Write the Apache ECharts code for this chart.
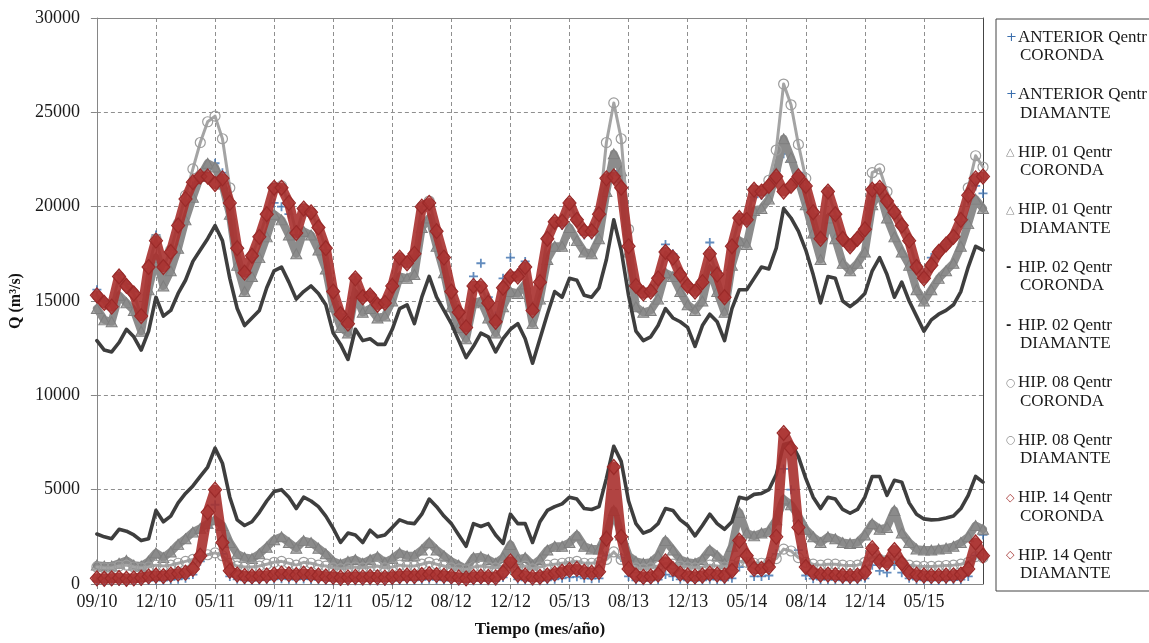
<!DOCTYPE html>
<html>
<head>
<meta charset="utf-8">
<title>Q entrante</title>
<script src="https://cdn.jsdelivr.net/npm/echarts@6/dist/echarts.min.js"></script>
<style>
  html, body { margin: 0; padding: 0; background: #fff; }
  #chart { width: 1149px; height: 643px; }
</style>
</head>
<body>
<div id="chart"></div>
<script>
// Sample index runs 0..120; one tick label every 8 samples.
const tickLabels = ['09/10', '12/10', '05/11', '09/11', '12/11', '05/12', '08/12', '12/12',
                    '05/13', '08/13', '12/13', '05/14', '08/14', '12/14', '05/15'];
const samplesPerTick = 8;

const seriesNames = [
  'ANTERIOR Qentr CORONDA', 'ANTERIOR Qentr DIAMANTE',
  'HIP. 01 Qentr CORONDA', 'HIP. 01 Qentr DIAMANTE',
  'HIP. 02 Qentr CORONDA', 'HIP. 02 Qentr DIAMANTE',
  'HIP. 08 Qentr CORONDA', 'HIP. 08 Qentr DIAMANTE',
  'HIP. 14 Qentr CORONDA', 'HIP. 14 Qentr DIAMANTE'
];

// Caudales (m3/s)
const antCor = [150,120,130,150,120,130,150,180,200,180, 220,250,300,500,1200,3000,4200,1600,400,250,
  200,180,200,220,250,280,250,230,260,240, 220,190,170,150,160,170,160,170,160,150,
  170,190,210,190,220,250,220,200,180,160, 130,170,180,170,160,350,900,250,200,160,
  170,200,250,300,350,380,300,280,300,1500, 3600,1400,400,200,170,180,230,500,400,250,
  200,180,200,250,230,200,300,900,1200,400, 400,450,1600,6100,5000,1800,450,280,230,230,
  220,200,190,200,300,1000,700,600,1000,600, 300,230,200,190,190,200,210,230,400,1500, 2600];

const antDia = [15600,15000,14800,16400,15900,15500,14300,16700,18500,16900, 17700,19000,20300,21100,21500,22000,22300,21800,20000,17700,
  16400,17300,18200,19300,20200,20000,19600,18500,19800,19500, 18800,17700,15500,14300,13900,16100,15200,15400,14900,15000,
  15900,17200,17000,17400,19800,20000,18600,17300,15600,14500, 13800,16300,17000,15200,14200,16200,17300,16500,17100,14700,
  16100,18100,19000,19000,20000,19200,18500,18500,19400,21300, 21900,21300,18000,15900,15400,15600,16300,18000,17500,16500,
  15900,15600,16100,18100,16600,15400,17900,19300,19200,20500, 20600,21000,21900,22800,22400,21800,20900,19600,18200,20600,
  19500,18200,17900,18300,18700,20700,20900,20100,19600,18900, 18200,17000,16500,17300,17600,18000,18300,19200,20300,21100, 20700];

const hip01Cor = [1000,950,950,1100,1250,1000,950,1200,1650,1400, 1700,2100,2400,2750,2950,3200,3400,3100,2200,1600,
  1400,1350,1600,1950,2350,2500,2200,1900,2300,2200, 1900,1600,1200,1050,1200,1300,1100,1300,1450,1150,
  1350,1650,1500,1500,1800,2200,1800,1500,1200,1000, 800,1400,1450,1300,1100,1400,2100,1300,1400,1000,
  1300,1800,2000,2000,2200,2600,2000,1850,1850,2600, 3900,2600,1500,1200,1100,1150,1500,2300,1800,1300,
  1150,1100,1300,1800,1500,1100,2000,3800,2700,2550, 2700,2800,3400,4500,4200,3600,2900,2500,2200,2500,
  2400,2200,2150,2200,2600,3200,2900,3000,3900,2700, 2200,1850,1800,1800,1850,1900,2000,2200,2500,3100, 2900];

const hip01Dia = [14600,14000,13900,15300,14900,14500,13400,15600,17300,15800, 16600,17800,19300,20500,21600,22300,22100,21200,19600,16900,
  15500,16300,17300,18400,19600,19300,18500,17500,18700,18500, 17700,16700,14700,13600,13300,15400,14400,14600,14100,14200,
  15000,16300,16200,16400,18900,19400,17900,16500,14700,13600, 13000,14900,15000,14100,13300,14700,15500,15400,15900,13800,
  15100,17200,17900,17900,18900,18200,17600,17500,18300,20800, 22800,21900,17600,14700,14400,14500,15100,16500,16300,15500,
  14800,14500,15000,16700,15500,14400,16900,18200,18000,19800, 19900,20400,21800,23600,22600,21400,20100,18600,17200,19400,
  18300,17000,16600,17000,17600,20100,20800,19400,18400,17600, 16900,15600,15000,15600,16200,16600,17000,17900,19100,20400, 19900];

const hip02Cor = [2650,2500,2400,2900,2800,2600,2300,2400,3900,3300, 3600,4300,4800,5200,5700,6200,7200,6400,4600,3400,
  3100,3300,3800,4400,4900,5000,4600,4000,4600,4400, 4100,3600,2950,2200,2700,2600,2200,2850,2500,2600,
  3000,3400,3250,3200,3700,4500,4100,3600,3200,2600, 2000,3200,3050,3200,2600,2150,3700,3200,3200,2200,
  3300,3900,4100,4250,4600,4500,4000,3950,4100,5600, 7300,6500,4400,3200,2700,2850,3200,4000,3900,3400,
  3100,2550,3100,3700,3200,2900,3300,4600,4500,4750, 4800,5000,5800,7400,7500,6750,5600,4600,4000,4600,
  4500,3950,3750,3950,4600,5700,5700,4700,5500,5400, 4300,3700,3450,3400,3420,3500,3600,4000,4700,5700, 5400];

const hip02Dia = [12900,12400,12300,12800,13500,13100,12400,13400,15200,14200, 14500,15400,16100,17100,17700,18300,19000,18200,16200,14600,
  13700,14100,14500,15700,16600,16800,16000,15100,15500,15800, 15400,14800,13300,12700,11900,13500,12900,13000,12700,12700,
  13500,14600,14800,13800,15200,16300,15200,14500,13800,12900, 12000,12600,13300,13100,12300,13000,13500,13800,13000,11700,
  13000,14300,15500,15200,16200,16100,15300,15200,15700,17200, 19300,17700,15300,13400,12900,13100,13700,14600,14100,13900,
  13600,12600,13700,14300,13900,12900,14600,15600,15600,16200, 16800,16700,17800,19900,19400,18700,17700,16400,14900,16300,
  16200,15000,14700,15000,15400,16600,17300,16400,15200,16000, 15000,14200,13400,14000,14300,14500,14800,15500,16800,17900, 17700];

const hip08Cor = [900,850,850,950,1000,900,850,900,1000,950, 1000,1100,1200,1300,1450,1550,1650,1500,1100,950,
  900,900,950,1050,1150,1200,1100,1000,1150,1100, 1000,950,850,800,850,900,850,900,950,850,
  900,1000,950,950,1050,1150,1050,950,850,800, 750,900,950,900,850,950,1150,900,950,800,
  900,1000,1050,1100,1150,1200,1100,1100,1150,1300, 1700,1300,950,850,800,850,950,1100,1050,950,
  900,850,900,1000,950,900,1000,1200,1150,1100, 1100,1150,1350,1850,1750,1400,1150,1050,1000,1050,
  1050,1000,980,1000,1150,1450,1300,1250,1350,1150, 1000,950,930,930,950,980,1000,1050,1150,1450, 1400];

const hip08Dia = [15300,14900,14700,16300,15800,15400,14200,16800,18300,16800, 17700,19100,20600,22000,23400,24500,24800,23600,21000,17800,
  16500,17400,18400,19600,21000,21100,20200,18600,19900,19700, 18900,17800,15500,14300,13800,16200,15200,15300,14800,14900,
  15800,17300,17000,17500,20000,20300,18700,17300,15500,14400, 13600,15800,15800,14900,13900,15700,16300,16300,16800,14500,
  16000,18300,19200,19200,20200,19300,18700,18700,19700,23400, 25500,23600,18800,15800,15400,15500,16200,17600,17300,16400,
  15800,15500,16000,17500,16400,15200,17900,19400,19300,20900, 20800,21400,23000,26500,25400,23300,21500,19700,18300,20800,
  19600,18300,17900,18300,18800,21800,22000,20800,19700,19000, 18200,16800,16200,16900,17600,18000,18400,19300,21000,22700, 22100];

const hip14Cor = [300,280,300,320,280,300,330,400,450,420, 500,550,600,800,1500,3800,5000,2200,700,500,
  420,400,420,450,500,550,520,480,550,500, 450,400,380,330,350,380,350,380,360,340,
  380,420,450,420,480,520,480,440,400,350, 300,380,400,380,350,600,1200,500,450,350,
  380,450,550,650,750,800,650,600,650,2400, 6200,2500,800,450,380,400,500,1200,800,550,
  450,400,450,550,500,450,700,2300,1500,800, 800,900,2500,8000,7200,3000,900,600,500,500,
  480,450,430,450,600,1900,1200,1100,1800,1100, 600,500,450,430,430,450,460,500,800,2200, 1500];

const hip14Dia = [15300,14900,14700,16300,15800,15400,14200,16800,18200,16800, 17600,19000,20400,21300,21600,21600,21200,21500,20200,17800,
  16500,17400,18400,19600,21000,21000,20200,18600,19900,19700, 18900,17800,15500,14300,13800,16200,15200,15300,14800,14900,
  15800,17300,17000,17500,20000,20200,18700,17300,15500,14400, 13600,15800,15800,14900,13900,15700,16300,16300,16800,14500,
  16000,18300,19200,19200,20200,19300,18700,18700,19600,21500, 21600,21000,17900,15800,15400,15500,16200,17600,17300,16400,
  15800,15500,16000,17500,16400,15200,17900,19400,19300,20900, 20800,21100,21600,20800,21100,21600,21100,19700,18300,20800,
  19600,18300,17900,18300,18800,20900,21000,20300,19700,19000, 18200,16800,16200,16900,17600,18000,18400,19300,20600,21500, 21600];

const valueSets = [antCor, antDia, hip01Cor, hip01Dia, hip02Cor, hip02Dia, hip08Cor, hip08Dia, hip14Cor, hip14Dia];

// Marker styles: dense daily markers read as a thick band, so each marker
// series is backed by a wide trace in the same colour.
const BLUE = '#3b6fae', GRAY = '#8a8a8a', DARK = '#3e3e3e', LIGHT = '#9c9c9c', RED = '#a3302f';
const PLUS = 'path://M4,0L6,0L6,4L10,4L10,6L6,6L6,10L4,10L4,6L0,6L0,4L4,4Z';
const SERIF = 'Liberation Serif';

const TRI = { symbol: 'triangle', size: [11, 10], item: { color: 'rgba(138,138,138,0.7)', borderColor: '#7f7f7f', borderWidth: 1 },
              trace: { color: '#8c8c8c', width: 8 }, glyph: ['gg', '\u25B3'] };
const CIR = { symbol: 'circle', size: 10, item: { color: 'rgba(0,0,0,0)', borderColor: LIGHT, borderWidth: 1.2 },
              trace: { color: '#a4a4a4', width: 3 }, glyph: ['gg', '\u25CB'] };
const DIA = { symbol: 'diamond', size: [13, 15], item: { color: 'rgba(172,52,50,0.6)', borderColor: '#9a2a29', borderWidth: 1.2 },
              trace: { color: 'rgba(168,48,46,0.9)', width: 10 }, glyph: ['gr', '\u25C7'] };
const PLS = { symbol: PLUS, size: 9, item: { color: BLUE }, trace: null, glyph: ['gb', '+'] };
const DSH = { symbol: 'none', size: 0, item: { color: DARK }, trace: { color: DARK, width: 3.6 }, glyph: ['gd', '-'] };

const styles = [PLS, PLS, TRI, TRI, DSH, DSH, CIR, CIR, DIA, DIA];

const series = seriesNames.map((name, s) => {
  const st = styles[s];
  const data = valueSets[s].map((v, i) => [i, v]);
  if (!st.trace) {
    return { name, type: 'scatter', data, symbol: st.symbol, symbolSize: st.size, silent: true, z: 2 + s, itemStyle: st.item };
  }
  return {
    name, type: 'line', data, silent: true, z: 2 + s,
    symbol: st.symbol, symbolSize: st.size, showSymbol: st.symbol !== 'none', showAllSymbol: true,
    itemStyle: st.item,
    lineStyle: { color: st.trace.color, width: st.trace.width, join: 'round', cap: 'round' }
  };
});

const glyphOf = {};
seriesNames.forEach((n, s) => { glyphOf[n] = styles[s].glyph; });

const LH = 18.3;
const glyphBase = { width: 12, align: 'left', fontFamily: 'DejaVu Sans', fontSize: 11, lineHeight: LH };

const chart = echarts.init(document.getElementById('chart'), null, { renderer: 'canvas' });
chart.setOption({
  animation: false,
  backgroundColor: '#fff',
  grid: { left: 92, right: 166, top: 18, bottom: 55 },
  legend: {
    orient: 'vertical',
    left: 996, top: 19,
    padding: [9, 40, 8, 4],
    itemGap: 21,
    itemWidth: 1, itemHeight: 1,
    icon: 'none',
    selectedMode: false,
    backgroundColor: '#fff',
    borderColor: '#444', borderWidth: 1, borderRadius: 0,
    data: seriesNames,
    formatter: (name) => {
      const cut = name.lastIndexOf(' ');
      const g = glyphOf[name];
      return '{' + g[0] + '|' + g[1] + '}{t|' + name.slice(0, cut) + '}\n{pad| }{t|' + name.slice(cut + 1) + '}';
    },
    textStyle: {
      fontFamily: SERIF, fontSize: 17, color: '#1a1a1a', lineHeight: LH,
      rich: {
        t: { fontFamily: SERIF, fontSize: 17, color: '#1a1a1a', lineHeight: LH },
        pad: { width: 14, fontSize: 11, lineHeight: LH },
        gb: Object.assign({}, glyphBase, { color: BLUE, fontSize: 13 }),
        gg: Object.assign({}, glyphBase, { color: GRAY }),
        gd: Object.assign({}, glyphBase, { color: '#222', fontSize: 13, fontWeight: 'bold' }),
        gr: Object.assign({}, glyphBase, { color: RED })
      }
    }
  },
  xAxis: [{
    type: 'value', position: 'bottom',
    min: 0, max: tickLabels.length * samplesPerTick, interval: samplesPerTick,
    name: 'Tiempo (mes/año)', nameLocation: 'middle', nameGap: 37,
    nameTextStyle: { fontFamily: SERIF, fontSize: 17, fontWeight: 'bold', color: '#111' },
    axisLine: { show: true, onZero: false, lineStyle: { color: '#868686', width: 1 } },
    axisTick: { show: true, length: 5, lineStyle: { color: '#868686' } },
    axisLabel: {
      fontFamily: SERIF, fontSize: 18, color: '#1a1a1a', margin: 9,
      showMaxLabel: false,
      formatter: (v) => tickLabels[Math.round(v / samplesPerTick)] || ''
    },
    splitLine: { show: true, lineStyle: { color: '#8f8f8f', width: 1, type: [4, 3] } }
  }, {
    type: 'value', position: 'top',
    min: 0, max: tickLabels.length * samplesPerTick,
    axisLine: { show: true, onZero: false, lineStyle: { color: '#868686', width: 1 } },
    axisTick: { show: false }, axisLabel: { show: false }, splitLine: { show: false }
  }],
  yAxis: [{
    type: 'value', position: 'left',
    min: 0, max: 30000, interval: 5000,
    name: 'Q (m³/s)', nameLocation: 'middle', nameGap: 56, nameRotate: 90,
    nameTextStyle: { fontFamily: SERIF, fontSize: 16, fontWeight: 'bold', color: '#111' },
    axisLine: { show: true, onZero: false, lineStyle: { color: '#868686', width: 1 } },
    axisTick: { show: true, length: 6, lineStyle: { color: '#868686' } },
    axisLabel: { fontFamily: SERIF, fontSize: 18, color: '#1a1a1a', margin: 17, formatter: (v) => String(v) },
    splitLine: { show: true, lineStyle: { color: '#8f8f8f', width: 1, type: [4, 3] } }
  }, {
    type: 'value', position: 'right',
    min: 0, max: 30000,
    axisLine: { show: true, onZero: false, lineStyle: { color: '#444', width: 1 } },
    axisTick: { show: false }, axisLabel: { show: false }, splitLine: { show: false }
  }],
  series
});
</script>
</body>
</html>
